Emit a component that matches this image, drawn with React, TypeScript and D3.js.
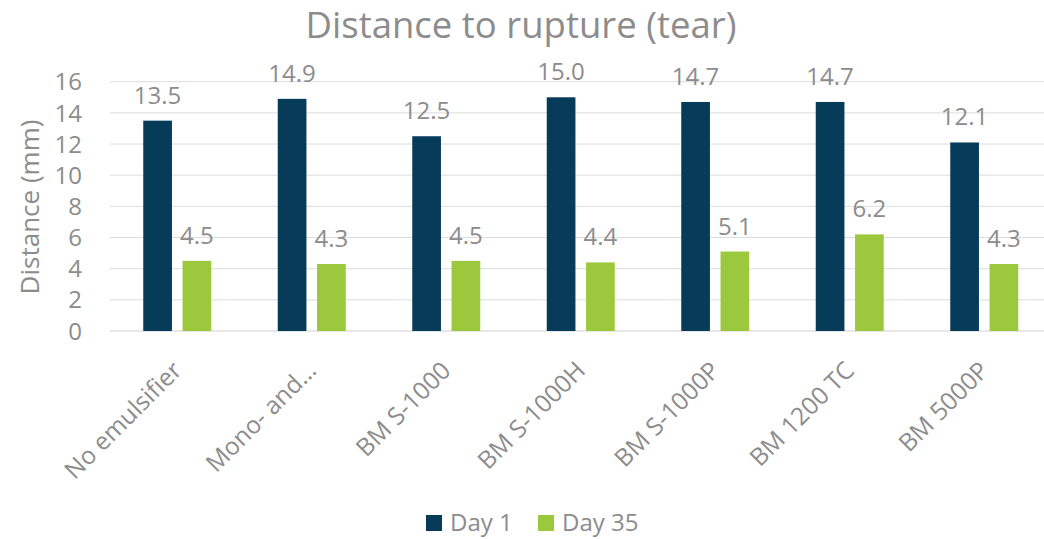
import React from "react";
import * as d3 from "d3";

const categories = [
  "No emulsifier",
  "Mono- and…",
  "BM S-1000",
  "BM S-1000H",
  "BM S-1000P",
  "BM 1200 TC",
  "BM 5000P",
];
const day1 = [13.5, 14.9, 12.5, 15.0, 14.7, 14.7, 12.1];
const day35 = [4.5, 4.3, 4.5, 4.4, 5.1, 6.2, 4.3];
const seriesNames = ["Day 1", "Day 35"];
const seriesColors = ["#073b5a", "#9cc83d"];
const yTicks = [0, 2, 4, 6, 8, 10, 12, 14, 16];

const W = 1044;
const H = 539;
const font = "'Open Sans', 'Noto Sans', sans-serif";
const textColor = "#8c8c8c";

const App = () => {
  const x = d3.scaleBand<string>().domain(categories).range([110, 1051.5]);
  const inner = d3
    .scaleBand<string>()
    .domain(seriesNames)
    .range([0, 68])
    .paddingInner(0.27);
  const y = d3.scaleLinear().domain([0, 16]).range([331, 81.7]);
  const series = [day1, day35];

  return (
    <svg
      width={W}
      height={H}
      style={{ position: "absolute", left: 0, top: 0, background: "#fff" }}
      fontFamily={font}
    >
      <text x={521} y={38} textAnchor="middle" fontSize={36.5} fill={textColor}>
        Distance to rupture (tear)
      </text>

      {yTicks.map((t) => (
        <g key={t}>
          <line
            x1={110}
            x2={W}
            y1={y(t)}
            y2={y(t)}
            stroke={t === 0 ? "#d0d0d0" : "#dcdcdc"}
            strokeWidth={1}
          />
          <text
            x={82}
            y={y(t)}
            dy="0.36em"
            textAnchor="end"
            fontSize={24}
            fill={textColor}
          >
            {t}
          </text>
        </g>
      ))}

      <text
        transform={`translate(30, 207) rotate(-90)`}
        textAnchor="middle"
        dy="0.36em"
        fontSize={26}
        fill={textColor}
      >
        Distance (mm)
      </text>

      {categories.map((c, i) => {
        const gx = x(c)! + (x.bandwidth() - 68) / 2;
        return (
          <g key={c}>
            {series.map((s, si) => {
              const bx = gx + inner(seriesNames[si])!;
              return (
                <g key={si}>
                  <rect
                    x={bx}
                    y={y(s[i])}
                    width={inner.bandwidth()}
                    height={y(0) - y(s[i])}
                    fill={seriesColors[si]}
                  />
                  <text
                    x={bx + inner.bandwidth() / 2}
                    y={y(s[i]) - 17}
                    textAnchor="middle"
                    fontSize={24}
                    fill={textColor}
                  >
                    {s[i].toFixed(1)}
                  </text>
                </g>
              );
            })}
            <text
              transform={`translate(${x(c)! + x.bandwidth() / 2 + 6}, 372) rotate(-45)`}
              textAnchor="end"
              fontSize={24.5}
              fill={textColor}
            >
              {c}
            </text>
          </g>
        );
      })}

      <g>
        <rect x={426} y={515} width={16} height={16} fill={seriesColors[0]} />
        <text x={450} y={531} fontSize={24} fill={textColor}>
          {seriesNames[0]}
        </text>
        <rect x={538} y={515} width={16} height={16} fill={seriesColors[1]} />
        <text x={562} y={531} fontSize={24} fill={textColor}>
          {seriesNames[1]}
        </text>
      </g>
    </svg>
  );
};

export default App;
